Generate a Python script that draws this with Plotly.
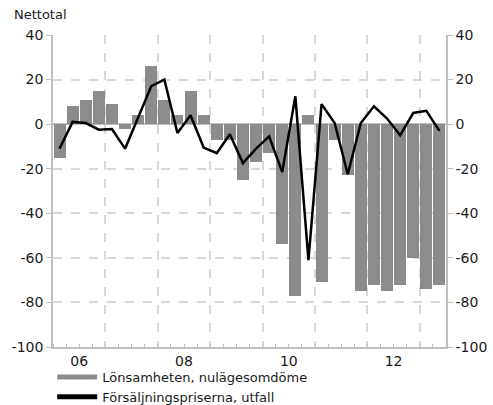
import plotly.graph_objects as go

# Quarterly data, 2006 Q1 .. 2013 Q2
quarters = [f"{y}Q{q}" for y in range(2006, 2014) for q in range(1, 5)][:30]
lonsamhet = [-15, 8, 11, 15, 9, -2, 4, 26, 11, 4, 15, 4, -7, -7, -25,
             -17, -13, -54, -77, 4, -71, -7, -23, -75, -72, -75, -72, -60, -74, -72]
forsaljning = [-11, 1, 0.5, -2.5, -2.2, -11, 3, 17, 20, -4, 4, -10.5, -13, -4.5, -17.5,
               -11, -5.5, -21.5, 12.5, -61, 9, 0.5, -22.5, 0.5, 8, 2.5, -5, 5, 6, -3]
x_tick_labels = ["06", "08", "10", "12"]
x_tick_years = [2006, 2008, 2010, 2012]
y_ticks = [40, 20, 0, -20, -40, -60, -80, -100]
y_tick_text = [str(v) for v in y_ticks]

def qpos(label):
    y, q = label.split("Q")
    return int(y) + (int(q) - 0.5) / 4

xs = [qpos(q) for q in quarters]

BAR = "#8c8c8c"
GRID = "#d9d9d9"
AXIS = "#bfbfbf"
TXT = "#1a1a1a"
FONT = "DejaVu Sans"

fig = go.Figure()
fig.add_trace(go.Bar(x=xs, y=lonsamhet, marker=dict(color=BAR, line=dict(width=0)),
                     width=0.23, name="Lönsamheten, nulägesomdöme", showlegend=False,
                     xaxis="x", yaxis="y"))
# legend proxy for the bar series (wide swatch)
fig.add_trace(go.Scatter(x=[None], y=[None], mode="lines",
                         line=dict(color=BAR, width=9),
                         name="Lönsamheten, nulägesomdöme", xaxis="x", yaxis="y"))
fig.add_trace(go.Scatter(x=xs, y=forsaljning, mode="lines",
                         line=dict(color="black", width=2.5),
                         name="Försäljningspriserna, utfall", xaxis="x2", yaxis="y2"))

xr = [2006, 2013.5]
yr = [-100, 40]
fig.update_layout(
    width=493, height=405,
    margin=dict(l=53, r=47, t=35, b=58, autoexpand=False),
    paper_bgcolor="white", plot_bgcolor="white",
    font=dict(family=FONT, size=14, color=TXT),
    bargap=0,
    showlegend=True,
    legend=dict(x=-0.002, y=-0.048, xanchor="left", yanchor="top",
                orientation="v", font=dict(size=13, color=TXT),
                itemwidth=40, tracegroupgap=0, bgcolor="rgba(0,0,0,0)",
                itemsizing="constant"),
    xaxis=dict(range=xr, tickmode="array", automargin=False,
               tickvals=[y + 0.5 for y in x_tick_years], ticktext=x_tick_labels,
               ticks="", showgrid=False, zeroline=False,
               showline=True, linecolor=AXIS, linewidth=1.5,
               minor=dict(tick0=2006, dtick=0.25, ticks="inside", ticklen=3,
                          tickcolor=AXIS, showgrid=False),
               tickfont=dict(size=14, color=TXT)),
    xaxis2=dict(range=xr, overlaying="x", anchor="y", tick0=2006, dtick=1,
                showticklabels=False, ticks="", showgrid=True, automargin=False,
                gridcolor=GRID, griddash="dash", gridwidth=1.5, zeroline=False,
                showline=False),
    yaxis=dict(range=yr, tickmode="array", tickvals=y_ticks, ticktext=y_tick_text,
               showgrid=True, gridcolor=GRID, automargin=False,
               griddash="dash", gridwidth=1.5,
               zeroline=True, zerolinecolor=AXIS, zerolinewidth=2,
               showline=True, linecolor=AXIS, linewidth=1.5,
               ticks="outside", ticklen=5, tickcolor=AXIS,
               tickfont=dict(size=14, color=TXT)),
    yaxis2=dict(range=yr, tickmode="array", tickvals=y_ticks, ticktext=y_tick_text,
                overlaying="y", side="right", automargin=False,
                anchor="x", showgrid=False, zeroline=False,
                showline=True, linecolor=AXIS, linewidth=1.5,
                ticks="outside", ticklen=5, tickcolor=AXIS,
                tickfont=dict(size=14, color=TXT)),
    annotations=[dict(text="Nettotal", xref="paper", yref="paper",
                      x=-0.105, y=1.065, xanchor="left", yanchor="middle",
                      showarrow=False, font=dict(size=13, color=TXT))],
)

fig.write_html("out.html", config={"displayModeBar": False},
               post_script="document.body.style.margin='0';document.body.style.overflow='hidden';")
